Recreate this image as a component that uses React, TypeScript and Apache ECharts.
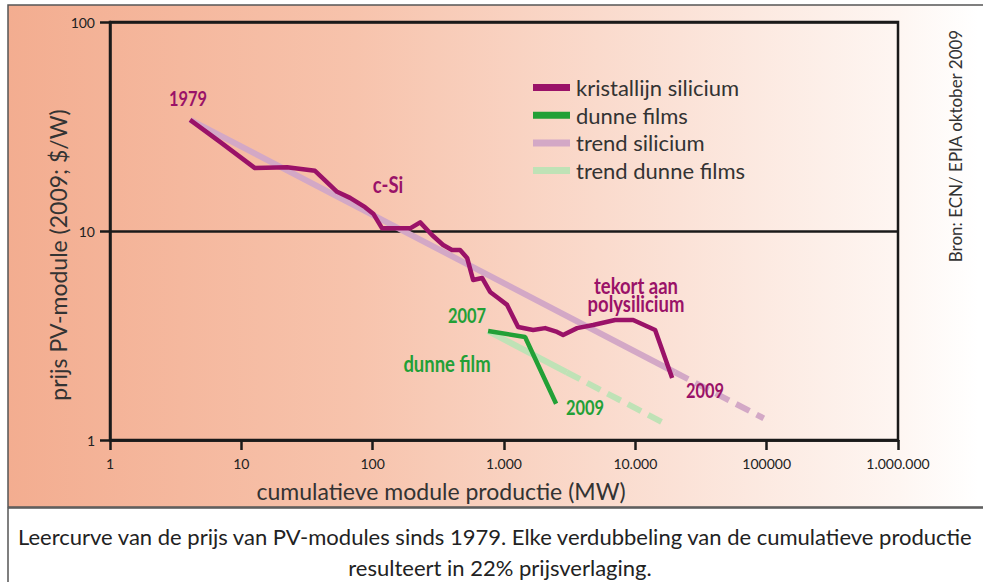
import React, { useEffect, useRef } from "react";
import * as echarts from "echarts";

// ---- data ----
const xTickLabels = ["1", "10", "100", "1.000", "10.000", "100000", "1.000.000"];
const yTickLabels = ["1", "10", "100"];

const siliciumX = [4.07, 6.88, 12.7, 22.3, 36.4, 53.6, 67.3, 87.5, 101, 118, 193, 230, 283, 344, 402, 463, 524, 582, 681, 784, 902, 1056, 1173, 1281, 1666, 2056, 2537, 2819, 3603, 4770, 7017, 9623, 14150, 19070];
const siliciumY = [34.0, 26.7, 20.0, 20.2, 19.4, 15.4, 14.4, 13.0, 12.1, 10.3, 10.3, 11.0, 9.57, 8.57, 8.11, 8.11, 7.43, 5.83, 5.96, 5.11, 4.78, 4.43, 3.88, 3.47, 3.36, 3.43, 3.29, 3.18, 3.43, 3.55, 3.75, 3.75, 3.36, 1.98];

const dunneX = [757, 1447, 2494];
const dunneY = [3.32, 3.11, 1.49];

const trendSiX = [4.07, 20000];
const trendSiY = [34.0, 2.11];
const trendSiExtX = [20000, 95000];
const trendSiExtY = [2.11, 1.27];

const trendDfX = [757, 3000];
const trendDfY = [3.32, 2.11];
const trendDfExtX = [3000, 16280];
const trendDfExtY = [2.11, 1.21];

const seriesNames = ["kristallijn silicium", "dunne films", "trend silicium", "trend dunne films"];

const PURPLE = "#9a1268";
const GREEN = "#22a036";
const LPURPLE = "#d3a8c6";
const LGREEN = "#bfe2b6";
const SANS = "Lato, 'Open Sans', sans-serif";

const zip = (xs: number[], ys: number[]) => xs.map((x, i) => [x, ys[i]]);

export default function App() {
  const ref = useRef<HTMLDivElement>(null);

  useEffect(() => {
    if (!ref.current) return;
    const chart = echarts.init(ref.current, null, { renderer: "svg" });

    const annot = (text: string, x: number, y: number, color: string, size = 20, sx = 0.82) => ({
      type: "text",
      x,
      y,
      scaleX: sx,
      z: 50,
      style: {
        text,
        fill: color,
        font: `bold ${size}px ${SANS}`,
        align: "center",
        verticalAlign: "middle",
        lineHeight: 18,
      },
    });

    chart.setOption({
      animation: false,
      grid: {
        left: 110,
        top: 22,
        width: 788,
        height: 418,
        show: true,
        borderColor: "#1a1a1a",
        borderWidth: 2.5,
        backgroundColor: "transparent",
      },
      xAxis: {
        type: "log",
        logBase: 10,
        min: 1,
        max: 1000000,
        axisLine: { show: true, lineStyle: { color: "#1a1a1a", width: 2.5 } },
        axisTick: { show: true, length: 10, lineStyle: { color: "#1a1a1a", width: 2.5 } },
        splitLine: { show: false },
        minorTick: { show: false },
        axisLabel: {
          margin: 16,
          fontSize: 14,
          color: "#222",
          fontFamily: SANS,
          formatter: (v: number) => xTickLabels[Math.round(Math.log10(v))] ?? "",
        },
      },
      yAxis: {
        type: "log",
        logBase: 10,
        min: 1,
        max: 100,
        axisLine: { show: true, lineStyle: { color: "#1a1a1a", width: 2.5 } },
        axisTick: { show: true, length: 10, lineStyle: { color: "#1a1a1a", width: 2.5 } },
        splitLine: { show: true, lineStyle: { color: "#1a1a1a", width: 2.5 } },
        minorTick: { show: false },
        axisLabel: {
          margin: 15,
          fontSize: 14,
          color: "#222",
          fontFamily: SANS,
          formatter: (v: number) => yTickLabels[Math.round(Math.log10(v))] ?? "",
        },
      },
      legend: {
        data: seriesNames,
        orient: "vertical",
        left: 528,
        top: 71,
        icon: "rect",
        itemWidth: 37,
        itemHeight: 7,
        itemGap: 4.7,
        textStyle: {
          fontSize: 22,
          color: "#333",
          fontFamily: SANS,
          lineHeight: 23,
          padding: [0, 0, 0, 1],
        },
      },
      series: [
        {
          name: "trend silicium",
          type: "line",
          data: zip(trendSiX, trendSiY),
          color: LPURPLE,
          showSymbol: false,
          lineStyle: { color: LPURPLE, width: 6 },
          z: 2,
        },
        {
          name: "trend silicium ext",
          type: "line",
          data: zip(trendSiExtX, trendSiExtY),
          color: LPURPLE,
          showSymbol: false,
          lineStyle: { color: LPURPLE, width: 6, type: [15, 8] },
          z: 2,
        },
        {
          name: "trend dunne films",
          type: "line",
          data: zip(trendDfX, trendDfY),
          color: LGREEN,
          showSymbol: false,
          lineStyle: { color: LGREEN, width: 6 },
          z: 2,
        },
        {
          name: "trend dunne films ext",
          type: "line",
          data: zip(trendDfExtX, trendDfExtY),
          color: LGREEN,
          showSymbol: false,
          lineStyle: { color: LGREEN, width: 6, type: [15, 8] },
          z: 2,
        },
        {
          name: "kristallijn silicium",
          type: "line",
          data: zip(siliciumX, siliciumY),
          color: PURPLE,
          showSymbol: false,
          lineStyle: { color: PURPLE, width: 4.5, join: "round" },
          z: 4,
        },
        {
          name: "dunne films",
          type: "line",
          data: zip(dunneX, dunneY),
          color: GREEN,
          showSymbol: false,
          lineStyle: { color: GREEN, width: 4.5 },
          z: 4,
        },
      ],
      graphic: [
        {
          type: "rect",
          z: -100,
          shape: { x: 8, y: 5, width: 990, height: 502 },
          style: {
            fill: new echarts.graphic.LinearGradient(0, 0, 1, 0, [
              { offset: 0, color: "#f3ad90" },
              { offset: 0.35, color: "#f7c3ac" },
              { offset: 0.68, color: "#fbe2d7" },
              { offset: 0.9, color: "#fef6f2" },
              { offset: 0.98, color: "#ffffff" },
            ]),
            stroke: "#555",
            lineWidth: 1.5,
          },
        },
        {
          type: "rect",
          z: -100,
          shape: { x: 8, y: 508, width: 990, height: 80 },
          style: { fill: "#ffffff", stroke: "#555", lineWidth: 1.5 },
        },
        {
          type: "text",
          x: 58,
          y: 255,
          rotation: Math.PI / 2,
          style: {
            text: "prijs PV-module (2009; $/W)",
            fill: "#333",
            font: `23px ${SANS}`,
            align: "center",
            verticalAlign: "middle",
          },
        },
        {
          type: "text",
          x: 441,
          y: 491,
          style: {
            text: "cumulatieve module productie (MW)",
            fill: "#333",
            font: `23px ${SANS}`,
            align: "center",
            verticalAlign: "middle",
          },
        },
        {
          type: "text",
          x: 955,
          y: 146,
          rotation: Math.PI / 2,
          style: {
            text: "Bron: ECN/ EPIA oktober 2009",
            fill: "#333",
            font: `17px ${SANS}`,
            align: "center",
            verticalAlign: "middle",
          },
        },
        {
          type: "text",
          x: 18,
          y: 536,
          style: {
            text: "Leercurve van de prijs van PV-modules sinds 1979. Elke verdubbeling van de cumulatieve productie",
            fill: "#222",
            font: `22px ${SANS}`,
            align: "left",
            verticalAlign: "middle",
          },
        },
        {
          type: "text",
          x: 500,
          y: 567,
          style: {
            text: "resulteert in 22% prijsverlaging.",
            fill: "#222",
            font: `22px ${SANS}`,
            align: "center",
            verticalAlign: "middle",
          },
        },
        annot("1979", 188, 98, PURPLE),
        annot("c-Si", 388, 184, PURPLE, 22, 0.84),
        annot("tekort aan\npolysilicium", 636, 294, PURPLE, 22, 0.84),
        annot("2009", 705, 390, PURPLE),
        annot("2007", 467, 315, GREEN),
        annot("dunne film", 447, 363, GREEN, 22, 0.84),
        annot("2009", 585, 407, GREEN),
      ],
    });

    return () => chart.dispose();
  }, []);

  return (
    <div
      ref={ref}
      style={{ position: "absolute", left: 0, top: 0, width: 983, height: 582, background: "#fff" }}
    />
  );
}
